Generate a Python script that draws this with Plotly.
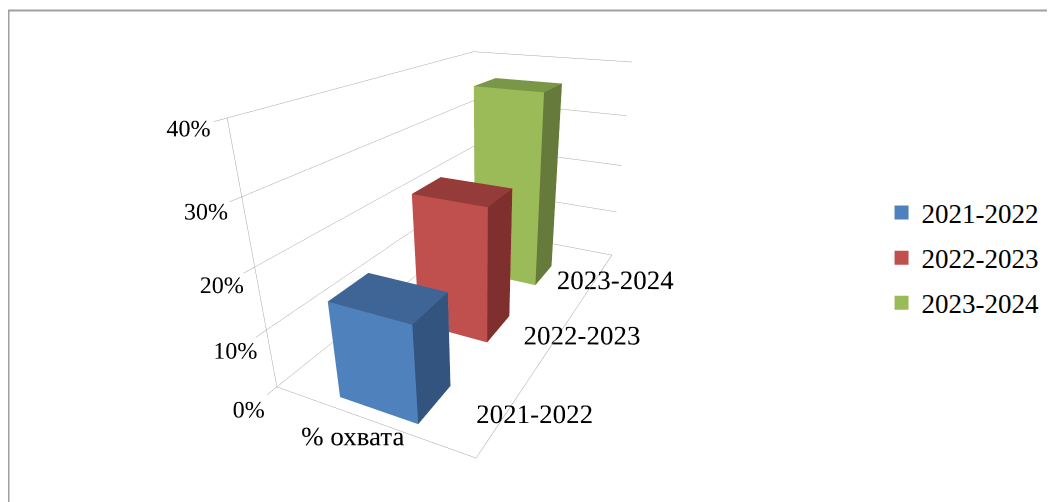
import plotly.graph_objects as go

# ---- data ----
categories = ["% охвата"]
series_names = ["2021-2022", "2022-2023", "2023-2024"]
values = [0.16, 0.24, 0.37]
z_ticks = [0.0, 0.1, 0.2, 0.3, 0.4]
z_tick_labels = ["0%", "10%", "20%", "30%", "40%"]

front_colors = ["#4F81BD", "#C0504D", "#9BBB59"]
top_colors = ["#3E6595", "#953B39", "#7A9747"]
side_colors = ["#33547E", "#7F302E", "#667B3B"]

FONT = "Liberation Serif, Times New Roman, serif"

fig = go.Figure()

bx0, bx1 = 0.30, 0.70
for i, (name, v) in enumerate(zip(series_names, values)):
    y0, y1 = i + 0.10, i + 0.52
    xs = [bx0, bx1, bx1, bx0, bx0, bx1, bx1, bx0]
    ys = [y0, y0, y1, y1, y0, y0, y1, y1]
    zs = [0, 0, 0, 0, v, v, v, v]
    I = [0, 0, 1, 1, 4, 4, 3, 3, 0, 0, 0, 0]
    J = [1, 5, 2, 6, 5, 6, 2, 6, 3, 7, 1, 2]
    K = [5, 4, 6, 5, 6, 7, 6, 7, 7, 4, 2, 3]
    fc = [front_colors[i]] * 2 + [side_colors[i]] * 2 + [top_colors[i]] * 2 + \
         [front_colors[i]] * 6
    fig.add_trace(go.Mesh3d(
        x=xs, y=ys, z=zs, i=I, j=J, k=K, facecolor=fc, flatshading=True,
        lighting=dict(ambient=1, diffuse=0, specular=0, roughness=1, fresnel=0),
        hoverinfo="skip", showlegend=False, showscale=False,
    ))
    fig.add_trace(go.Scatter3d(
        x=[None], y=[None], z=[None], mode="markers", name=name,
        legendgroup=name,
        marker=dict(symbol="square", size=14, color=front_colors[i]),
        hoverinfo="skip",
    ))

axis_common = dict(
    showbackground=False, showspikes=False, zeroline=False,
    title=dict(text=""), showline=True, linecolor="#A0A0A0", linewidth=1,
    ticks="", tickangle=0,
    tickfont=dict(family=FONT, size=18, color="#000000"),
)

fig.update_layout(
    width=1055, height=502,
    margin=dict(l=0, r=0, t=0, b=0),
    paper_bgcolor="white",
    showlegend=True,
    legend=dict(x=0.828, y=0.502, xanchor="left", yanchor="middle",
                font=dict(family=FONT, size=27, color="#000000"),
                tracegroupgap=7, itemwidth=30),
    scene=dict(
        domain=dict(x=[0.0, 0.898], y=[0.0, 1.0]),
        xaxis=dict(axis_common, range=[0, 1], tickvals=[0.5], ticktext=categories,
                   showgrid=False),
        yaxis=dict(axis_common, range=[0, 3], tickvals=[0.5, 1.5, 2.5],
                   ticktext=series_names, showgrid=False),
        zaxis=dict(axis_common, range=[0, 0.4], tickvals=z_ticks,
                   ticktext=z_tick_labels, showgrid=True, gridcolor="#A8A8A8",
                   gridwidth=1, ticks="outside", tickcolor="#A0A0A0", ticklen=6,
                   tickfont=dict(family=FONT, size=17, color="#000000")),
        aspectmode="manual",
        aspectratio=dict(x=1.157, y=2.314, z=1.4),
        camera=dict(eye=dict(x=1.487, y=-2.979, z=1.288),
                    center=dict(x=0.117, y=-0.148, z=-0.255),
                    up=dict(x=0, y=0, z=1), projection=dict(type="perspective")),
        dragmode=False,
    ),
    shapes=[dict(type="rect", xref="paper", yref="paper", x0=0.5 / 1055, x1=1.05,
                 y0=-0.05, y1=1 - 2.5 / 502, line=dict(color="#A0A0A0", width=2),
                 fillcolor="rgba(0,0,0,0)")],
)

fig.write_html("out.html")
